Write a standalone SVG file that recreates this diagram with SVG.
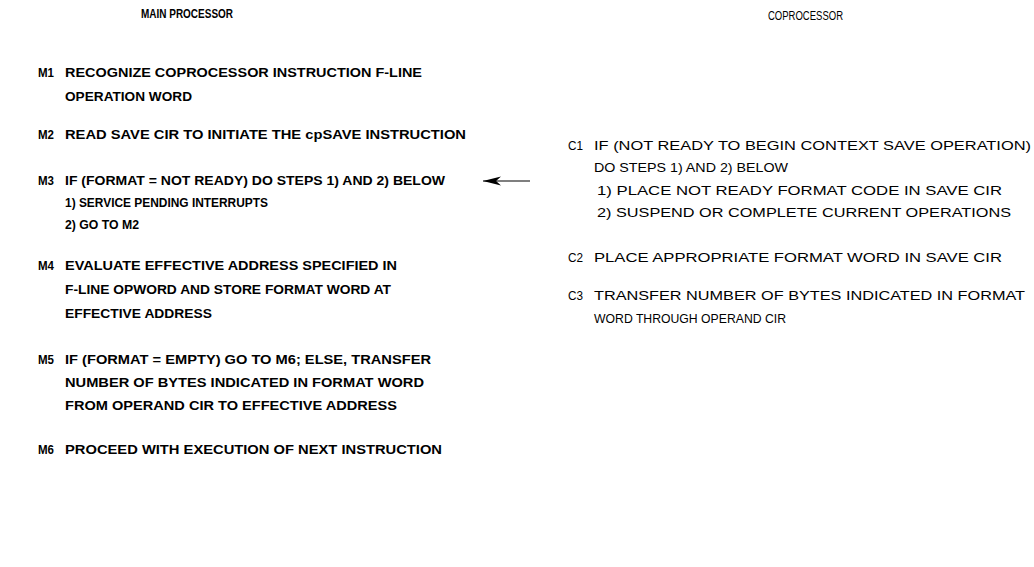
<svg xmlns="http://www.w3.org/2000/svg" width="1034" height="567" viewBox="0 0 1034 567">
<style>
text{font-family:"Liberation Sans",Arial,sans-serif;fill:#000}
.m{font-weight:bold;font-size:13.5px}
.c{font-size:13.5px}
.t{font-size:12px}
</style>
<defs>
<marker id="ah" viewBox="0 0 18 10" refX="18" refY="5" markerWidth="18" markerHeight="10" markerUnits="userSpaceOnUse" orient="auto">
<path d="M0,0.5 L18,5 L0,9.5 L5,5 Z" fill="#000"/>
</marker>
</defs>
<rect width="1034" height="567" fill="#fff"/>
<g id="titles">
<text class="t" font-weight="bold" x="141" y="18" textLength="92" lengthAdjust="spacingAndGlyphs">MAIN PROCESSOR</text>
<text class="t" x="768" y="20" textLength="75" lengthAdjust="spacingAndGlyphs">COPROCESSOR</text>
</g>
<g id="M1">
<text class="m" x="38" y="77" textLength="16" lengthAdjust="spacingAndGlyphs">M1</text>
<text class="m" x="65" y="77" textLength="357" lengthAdjust="spacingAndGlyphs">RECOGNIZE COPROCESSOR INSTRUCTION F-LINE</text>
<text class="m" x="65" y="101" textLength="127" lengthAdjust="spacingAndGlyphs">OPERATION WORD</text>
</g>
<g id="M2">
<text class="m" x="38" y="139" textLength="16" lengthAdjust="spacingAndGlyphs">M2</text>
<text class="m" x="65" y="139" textLength="401" lengthAdjust="spacingAndGlyphs">READ SAVE CIR TO INITIATE THE cpSAVE INSTRUCTION</text>
</g>
<g id="M3">
<text class="m" x="38" y="185" textLength="16" lengthAdjust="spacingAndGlyphs">M3</text>
<text class="m" x="65" y="185" textLength="380" lengthAdjust="spacingAndGlyphs">IF (FORMAT = NOT READY) DO STEPS 1) AND 2) BELOW</text>
<text class="m" x="65" y="207" textLength="203" lengthAdjust="spacingAndGlyphs">1) SERVICE PENDING INTERRUPTS</text>
<text class="m" x="65" y="229" textLength="74" lengthAdjust="spacingAndGlyphs">2) GO TO M2</text>
</g>
<g id="M4">
<text class="m" x="38" y="270" textLength="16" lengthAdjust="spacingAndGlyphs">M4</text>
<text class="m" x="65" y="270" textLength="332" lengthAdjust="spacingAndGlyphs">EVALUATE EFFECTIVE ADDRESS SPECIFIED IN</text>
<text class="m" x="65" y="294" textLength="326" lengthAdjust="spacingAndGlyphs">F-LINE OPWORD AND STORE FORMAT WORD AT</text>
<text class="m" x="65" y="318" textLength="147" lengthAdjust="spacingAndGlyphs">EFFECTIVE ADDRESS</text>
</g>
<g id="M5">
<text class="m" x="38" y="364" textLength="16" lengthAdjust="spacingAndGlyphs">M5</text>
<text class="m" x="65" y="364" textLength="366" lengthAdjust="spacingAndGlyphs">IF (FORMAT = EMPTY) GO TO M6; ELSE, TRANSFER</text>
<text class="m" x="65" y="387" textLength="359" lengthAdjust="spacingAndGlyphs">NUMBER OF BYTES INDICATED IN FORMAT WORD</text>
<text class="m" x="65" y="410" textLength="332" lengthAdjust="spacingAndGlyphs">FROM OPERAND CIR TO EFFECTIVE ADDRESS</text>
</g>
<g id="M6">
<text class="m" x="38" y="454" textLength="16" lengthAdjust="spacingAndGlyphs">M6</text>
<text class="m" x="65" y="454" textLength="377" lengthAdjust="spacingAndGlyphs">PROCEED WITH EXECUTION OF NEXT INSTRUCTION</text>
</g>
<g id="C1">
<text class="c" x="568" y="150" textLength="15" lengthAdjust="spacingAndGlyphs">C1</text>
<text class="c" x="594" y="150" textLength="437" lengthAdjust="spacingAndGlyphs">IF (NOT READY TO BEGIN CONTEXT SAVE OPERATION)</text>
<text class="c" x="594" y="172" textLength="194" lengthAdjust="spacingAndGlyphs">DO STEPS 1) AND 2) BELOW</text>
<text class="c" x="597" y="195" textLength="405" lengthAdjust="spacingAndGlyphs">1) PLACE NOT READY FORMAT CODE IN SAVE CIR</text>
<text class="c" x="597" y="217" textLength="414" lengthAdjust="spacingAndGlyphs">2) SUSPEND OR COMPLETE CURRENT OPERATIONS</text>
</g>
<g id="C2">
<text class="c" x="568" y="262" textLength="15" lengthAdjust="spacingAndGlyphs">C2</text>
<text class="c" x="594" y="262" textLength="408" lengthAdjust="spacingAndGlyphs">PLACE APPROPRIATE FORMAT WORD IN SAVE CIR</text>
</g>
<g id="C3">
<text class="c" x="568" y="300" textLength="15" lengthAdjust="spacingAndGlyphs">C3</text>
<text class="c" x="594" y="300" textLength="431" lengthAdjust="spacingAndGlyphs">TRANSFER NUMBER OF BYTES INDICATED IN FORMAT</text>
<text class="c" x="594" y="323" textLength="192" lengthAdjust="spacingAndGlyphs">WORD THROUGH OPERAND CIR</text>
</g>
<g id="connectors">
<line x1="530" y1="181" x2="483" y2="181" stroke="#000" stroke-width="1.2" marker-end="url(#ah)"/>
</g>
</svg>
